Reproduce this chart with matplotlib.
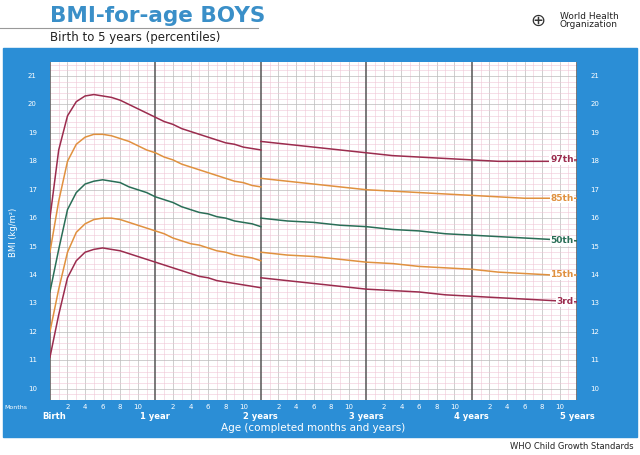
import matplotlib
matplotlib.use("Agg")
import matplotlib.pyplot as plt
from matplotlib.patches import Rectangle
import numpy as np

m_lying = list(range(0,25))
m_stand = list(range(24,61,3))
p97_l = [16.0,18.4,19.6,20.1,20.3,20.35,20.3,20.25,20.15,20.0,19.85,19.7,19.55,19.4,19.3,19.15,19.05,18.95,18.85,18.75,18.65,18.6,18.5,18.45,18.4]
p97_s = [18.7,18.6,18.5,18.4,18.3,18.2,18.15,18.1,18.05,18.0,18.0,18.0,18.05]
p85_l = [14.8,16.6,18.0,18.6,18.85,18.95,18.95,18.9,18.8,18.7,18.55,18.4,18.3,18.15,18.05,17.9,17.8,17.7,17.6,17.5,17.4,17.3,17.25,17.15,17.1]
p85_s = [17.4,17.3,17.2,17.1,17.0,16.95,16.9,16.85,16.8,16.75,16.7,16.7,16.7]
p50_l = [13.4,14.9,16.3,16.9,17.2,17.3,17.35,17.3,17.25,17.1,17.0,16.9,16.75,16.65,16.55,16.4,16.3,16.2,16.15,16.05,16.0,15.9,15.85,15.8,15.7]
p50_s = [16.0,15.9,15.85,15.75,15.7,15.6,15.55,15.45,15.4,15.35,15.3,15.25,15.2]
p15_l = [12.0,13.5,14.8,15.5,15.8,15.95,16.0,16.0,15.95,15.85,15.75,15.65,15.55,15.45,15.3,15.2,15.1,15.05,14.95,14.85,14.8,14.7,14.65,14.6,14.5]
p15_s = [14.8,14.7,14.65,14.55,14.45,14.4,14.3,14.25,14.2,14.1,14.05,14.0,14.0]
p3_l = [11.1,12.6,13.9,14.5,14.8,14.9,14.95,14.9,14.85,14.75,14.65,14.55,14.45,14.35,14.25,14.15,14.05,13.95,13.9,13.8,13.75,13.7,13.65,13.6,13.55]
p3_s = [13.9,13.8,13.7,13.6,13.5,13.45,13.4,13.3,13.25,13.2,13.15,13.1,13.05]
labels = ["97th","85th","50th","15th","3rd"]
colors = ["#9b2c4e","#e0913f","#2a6e57","#e0913f","#9b2c4e"]
year_labels = ["Birth","1 year","2 years","3 years","4 years","5 years"]
yticks = list(range(10,22))

blue = "#2b8ed6"
fig = plt.figure(figsize=(6.4,4.55), dpi=100)
fig.patches.append(Rectangle((0.005,0.04),0.99,0.855,transform=fig.transFigure,color=blue,zorder=-5))
fig.text(0.078,0.965,"BMI-for-age BOYS",color="#3a8fc8",fontsize=15.5,fontweight="bold",ha="left",va="center")
fig.text(0.078,0.918,"Birth to 5 years (percentiles)",color="#222222",fontsize=8.5,ha="left",va="center")
fig.add_artist(plt.Line2D([0,0.403],[0.938,0.938],transform=fig.transFigure,color="#999999",lw=0.8))
fig.text(0.875,0.955,"World Health\nOrganization",color="#222222",fontsize=6.5,ha="left",va="center",linespacing=0.9)
fig.text(0.84,0.955,"⊕",color="#333333",fontsize=13,ha="center",va="center")
fig.text(0.99,0.018,"WHO Child Growth Standards",color="#222222",fontsize=6,ha="right",va="center")

ax = fig.add_axes([0.078,0.121,0.824,0.743])
ax.set_zorder(2)
ax.set_xlim(0,60); ax.set_ylim(9.6,21.5)
ax.set_facecolor("white")
for m in range(61):
    if m % 12 == 0: c, w = "#555555", 1.1
    elif m % 2 == 0: c, w = "#bbbbbb", 0.5
    else: c, w = "#efc6d6", 0.4
    ax.axvline(m,color=c,lw=w,zorder=1 if m % 12 else 2)
for v in np.arange(9.6,21.51,0.2):
    r = round(v,1)
    if abs(r-round(r))<1e-6: c, w = "#bbbbbb", 0.5
    else: c, w = "#efc6d6", 0.4
    ax.axhline(r,color=c,lw=w,zorder=1)
series = [(p97_l,p97_s),(p85_l,p85_s),(p50_l,p50_s),(p15_l,p15_s),(p3_l,p3_s)]
for (l,s),lab,c in zip(series,labels,colors):
    ax.plot(m_lying,l,color=c,lw=1.1,zorder=3)
    ax.plot(m_stand,s,color=c,lw=1.1,zorder=3)
    ax.text(59.6,s[-1],lab,color=c,fontsize=6.5,fontweight="bold",ha="right",va="center",zorder=4,
            bbox=dict(facecolor="white",edgecolor="none",pad=0.5))
ax.set_xticks([]); ax.set_yticks([])
for sp in ax.spines.values(): sp.set_visible(False)
for v in yticks:
    ax.text(-1.5,v,str(v),color="white",fontsize=5,ha="right",va="center")
    ax.text(61.5,v,str(v),color="white",fontsize=5,ha="left",va="center")
for m in range(60):
    if m % 12 and m % 2 == 0:
        ax.text(m,9.35,str(m%12),color="white",fontsize=5,ha="center",va="center")
ax.text(-3.9,9.35,"Months",color="white",fontsize=4.5,ha="center",va="center")
for i,lab in enumerate(year_labels):
    ax.text(i*12+(0.5 if i==0 else 0),9.0,lab,color="white",fontsize=6,fontweight="bold",ha="center",va="center")
ax.text(30,8.6,"Age (completed months and years)",color="white",fontsize=7.5,ha="center",va="center")
ax.text(-4.1,15.5,"BMI (kg/m²)",color="white",fontsize=6,rotation=90,ha="center",va="center")
fig.savefig("out.png",dpi=100)
